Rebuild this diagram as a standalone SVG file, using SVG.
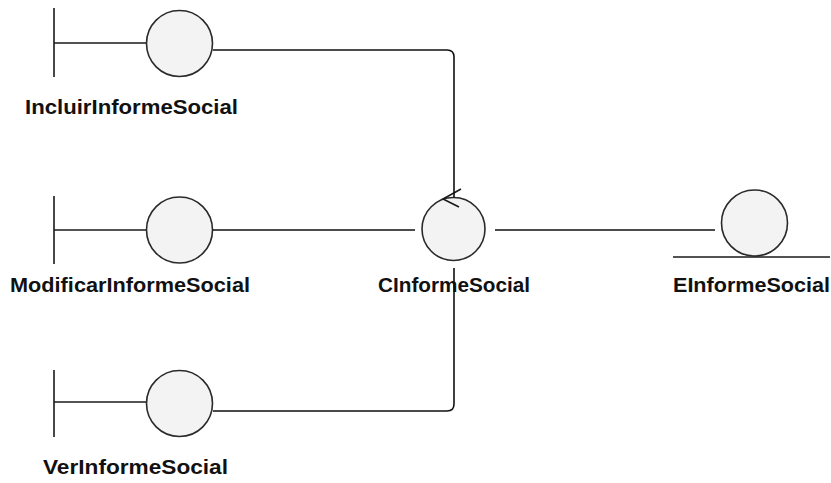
<svg xmlns="http://www.w3.org/2000/svg" width="831" height="483" viewBox="0 0 831 483">
<style>
.shape{fill:#f3f3f3;stroke:#2a2a2a;stroke-width:1.6}
.ln{fill:none;stroke:#1a1a1a;stroke-width:1.6}
.lbl{font-family:"Liberation Sans",Arial,sans-serif;font-weight:bold;font-size:21px;fill:#111}
.conn{fill:none;stroke:#111;stroke-width:1.6}
</style>
<rect width="831" height="483" fill="#ffffff"/>
<g id="IncluirInformeSocial">
<line class="ln" x1="54" y1="8" x2="54" y2="77"/>
<line class="ln" x1="54" y1="43" x2="146" y2="43"/>
<circle class="shape" cx="179.5" cy="43.5" r="33"/>
<text class="lbl" x="25" y="114" textLength="213" lengthAdjust="spacingAndGlyphs">IncluirInformeSocial</text>
</g>
<g id="ModificarInformeSocial">
<line class="ln" x1="54" y1="196" x2="54" y2="264"/>
<line class="ln" x1="54" y1="230" x2="146" y2="230"/>
<circle class="shape" cx="179.5" cy="230" r="33"/>
<text class="lbl" x="10" y="292" textLength="240" lengthAdjust="spacingAndGlyphs">ModificarInformeSocial</text>
</g>
<g id="VerInformeSocial">
<line class="ln" x1="54" y1="370" x2="54" y2="437"/>
<line class="ln" x1="54" y1="402" x2="146" y2="402"/>
<circle class="shape" cx="179.5" cy="403.5" r="33"/>
<text class="lbl" x="43" y="474" textLength="185" lengthAdjust="spacingAndGlyphs">VerInformeSocial</text>
</g>
<g id="CInformeSocial">
<circle class="shape" cx="453.5" cy="229" r="31.5"/>
<polyline class="ln" points="461,189 443,199 459,207"/>
<text class="lbl" x="378" y="292" textLength="152" lengthAdjust="spacingAndGlyphs">CInformeSocial</text>
</g>
<g id="EInformeSocial">
<circle class="shape" cx="754.5" cy="223" r="33"/>
<line class="ln" x1="673" y1="257" x2="830" y2="257"/>
<text class="lbl" x="673" y="292" textLength="157" lengthAdjust="spacingAndGlyphs">EInformeSocial</text>
</g>
<g id="connectors">
<path class="conn" d="M213,50 H447 Q454,50 454,57 V197.5"/>
<path class="conn" d="M213,411 H447 Q454,411 454,404 V268"/>
<line class="conn" x1="213" y1="230" x2="415" y2="230"/>
<line class="conn" x1="495" y1="230" x2="715" y2="230"/>
</g>
</svg>
